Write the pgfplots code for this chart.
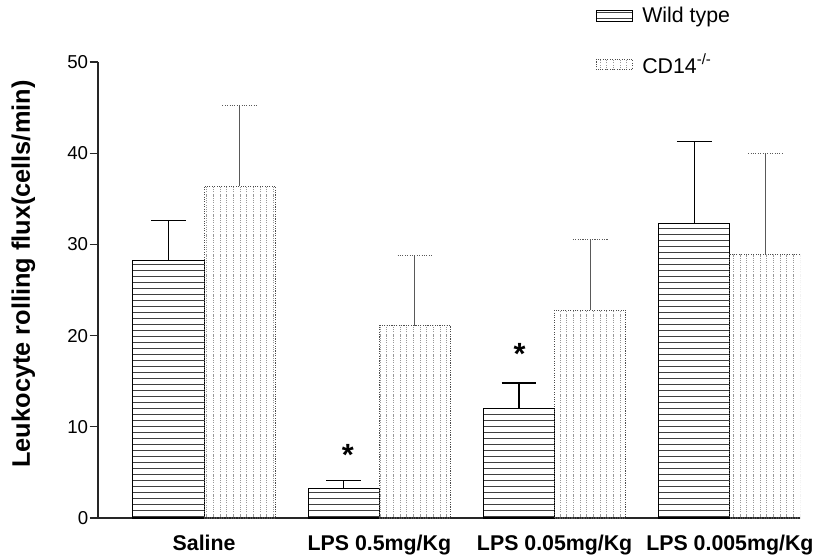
\documentclass[border=0pt]{standalone}
\usepackage{fontspec}
\setmainfont{Liberation Sans}
\usepackage{pgfplots}
\pgfplotsset{compat=1.18}
\usetikzlibrary{patterns.meta}
\pgfplotsset{boxlegend/.style={legend image code/.code={\draw[##1] (0pt,-4pt) rectangle (27pt,4pt); \path (32pt,0pt);}}}
\pgfplotstableread{
x y e
0 28.2 4.4
1 3.2 0.9
2 12.0 2.8
3 32.3 9.0
}\wt
\pgfplotstableread{
x y e
0 36.4 8.8
1 21.1 7.7
2 22.8 7.7
3 28.9 11.1
}\cd
\begin{document}
\begin{tikzpicture}
\begin{axis}[
 at={(0,0)}, anchor=south west,
 scale only axis, width=526.7pt, height=342pt,
 xmin=-0.607, xmax=3.4, ymin=0, ymax=50,
 axis lines*=left,
 axis line style={line width=1.3pt, black!85},
 ytick={0,10,...,50},
 tick align=outside,
 major tick length=6pt,
 ytick style={line width=1pt, black!85},
 xtick={0,1,2,3},
 xticklabels={Saline, LPS 0.5mg/Kg, LPS 0.05mg/Kg, LPS 0.005mg/Kg},
 x tick style={draw=none},
 xticklabel style={font=\fontsize{16}{18}\selectfont\bfseries, yshift=-3pt},
 yticklabel style={font=\fontsize{14}{16}\selectfont, inner sep=1pt},
 /pgf/number format/assume math mode=true,
 ylabel={Leukocyte rolling flux(cells/min)},
 ylabel style={font=\fontsize{19}{22}\selectfont\bfseries, at={(axis description cs:-0.106,0.535)}, anchor=center},
 ybar, bar width=0.406,
 legend style={at={(axis description cs:0.709,1.127)}, anchor=north west, draw=none, fill=none, font=\fontsize{16}{18}\selectfont, row sep=18pt, inner sep=0pt},
 legend cell align=left,
]
\addplot[bar shift=-0.203, draw=black, line width=0.8pt,
  pattern={Lines[angle=0,distance=4.5pt,line width=0.6pt]}, pattern color=black!75,
  boxlegend,
  error bars/.cd, y dir=plus, y explicit, error mark=|,
  error bar style={line width=1pt, black, solid},
  error mark options={line width=1pt, mark size=13pt, black, solid}]
  table[x=x,y=y,y error=e]{\wt};
\addlegendentry{Wild type}
\addplot[bar shift=0.203, draw=black!70, line width=0.8pt, densely dotted,
  pattern={Lines[angle=90,distance=5pt,line width=0.5pt]}, pattern color=black!40,
  boxlegend,
  error bars/.cd, y dir=plus, y explicit, error mark=|,
  error bar style={line width=0.8pt, black!65, solid},
  error mark options={line width=0.8pt, mark size=13pt, black!65, densely dotted}]
  table[x=x,y=y,y error=e]{\cd};
\addlegendentry{CD14\textsuperscript{-/-}}
\node[font=\fontsize{23}{25}\selectfont\bfseries] at (axis cs:0.82,6.9) {*};
\node[font=\fontsize{23}{25}\selectfont\bfseries] at (axis cs:1.80,18.0) {*};
\end{axis}
\pgfresetboundingbox
\path[use as bounding box] (-73.3pt,-30pt) rectangle (538.7pt,388.5pt);
\end{tikzpicture}
\end{document}
